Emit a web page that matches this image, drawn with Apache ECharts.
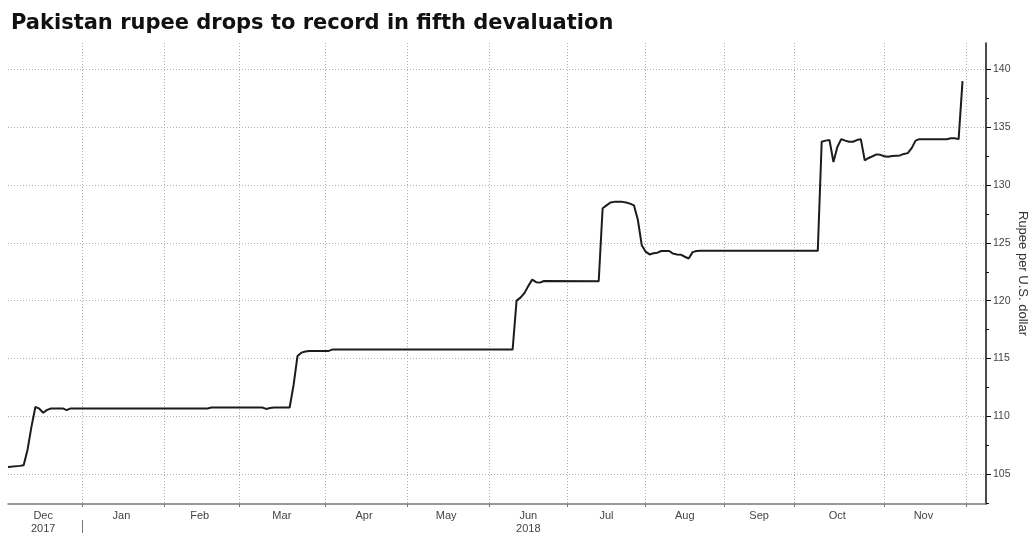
<!DOCTYPE html>
<html><head><meta charset="utf-8">
<script src="https://cdn.jsdelivr.net/npm/echarts@6/dist/echarts.min.js"></script>
<style>html,body{margin:0;padding:0;background:#fff}#c{width:1032px;height:534px}</style>
</head><body><div id="c"></div>
<script>
// ---------- data ----------
const titleText = 'Pakistan rupee drops to record in fifth devaluation';
const yAxisName = 'Rupee per U.S. dollar';
const monthNames = ['Jan','Feb','Mar','Apr','May','Jun','Jul','Aug','Sep','Oct','Nov','Dec'];
const firstDay = '2017-12-04';
const lastDay = '2018-12-10';
// weekdays with no fixing in the series
const nonTradingDays = ['2017-12-25','2018-01-01','2018-01-02','2018-02-05','2018-05-01','2018-05-31',
  '2018-06-15','2018-07-25','2018-07-26','2018-08-14','2018-08-22','2018-08-23',
  '2018-09-20','2018-09-21','2018-11-21'];
const yTicks = [105,110,115,120,125,130,135,140];
const yMinorTicks = [102.5,107.5,112.5,117.5,122.5,127.5,132.5,137.5];
const yMin = 102.4, yMax = 142.3;
const yearLabels = {'2017-12':'2017','2018-06':'2018'};
// USD/PKR close (flat stretches given by their ends)
const pointDates = [
  '2017-12-04','2017-12-07','2017-12-08','2017-12-11','2017-12-12','2017-12-13','2017-12-14','2017-12-15',
  '2017-12-18','2017-12-19','2017-12-22','2017-12-26','2017-12-27',
  '2018-02-19','2018-02-20','2018-03-09','2018-03-12','2018-03-13','2018-03-14','2018-03-20',
  '2018-03-21','2018-03-22','2018-03-23','2018-03-26','2018-03-27','2018-04-03','2018-04-04',
  '2018-06-11','2018-06-12','2018-06-13','2018-06-14','2018-06-18','2018-06-19','2018-06-20','2018-06-21','2018-06-22',
  '2018-07-12','2018-07-13','2018-07-16','2018-07-17','2018-07-18','2018-07-20','2018-07-23','2018-07-24',
  '2018-07-27','2018-07-30','2018-07-31',
  '2018-08-01','2018-08-02','2018-08-03','2018-08-06','2018-08-07','2018-08-09','2018-08-10','2018-08-13',
  '2018-08-15','2018-08-16','2018-08-17','2018-08-20','2018-08-21','2018-08-24',
  '2018-10-09','2018-10-10','2018-10-11','2018-10-12','2018-10-15','2018-10-16','2018-10-17','2018-10-18',
  '2018-10-19','2018-10-22','2018-10-23','2018-10-24','2018-10-25','2018-10-26','2018-10-29','2018-10-30','2018-10-31',
  '2018-11-01','2018-11-02','2018-11-05','2018-11-06','2018-11-07','2018-11-08','2018-11-09','2018-11-12',
  '2018-11-13','2018-11-14','2018-11-26','2018-11-27','2018-11-28','2018-11-29','2018-11-30'
];
const pointValues = [
  105.6,105.7,105.75,107.1,109.1,110.8,110.65,110.3,
  110.55,110.67,110.67,110.53,110.67,
  110.67,110.75,110.75,110.63,110.7,110.75,110.75,
  112.7,115.2,115.5,115.6,115.65,115.65,115.78,
  115.78,120.0,120.26,120.65,121.27,121.82,121.6,121.56,121.7,
  121.68,128.0,128.25,128.5,128.55,128.55,128.5,128.4,
  128.25,127.0,124.8,
  124.24,124.0,124.1,124.15,124.3,124.3,124.07,124.0,
  123.98,123.8,123.65,124.2,124.29,124.31,
  124.31,133.75,133.85,133.9,132.0,133.3,133.98,133.85,
  133.75,133.75,133.9,133.98,132.15,132.35,132.5,132.66,132.62,
  132.5,132.45,132.52,132.55,132.57,132.7,132.77,133.2,
  133.85,133.98,133.97,134.05,134.05,133.98,139.0
];

// ---------- trading-day categories ----------
const skip = new Set(nonTradingDays);
const categories = [];
for (let t = Date.parse(firstDay + 'T00:00:00Z'); t <= Date.parse(lastDay + 'T00:00:00Z'); t += 86400000) {
  const d = new Date(t);
  const wd = d.getUTCDay();
  const s = d.toISOString().slice(0, 10);
  if (wd === 0 || wd === 6 || skip.has(s)) continue;
  categories.push(s);
}
const monthStarts = [];
categories.forEach((c, i) => {
  if (i > 0 && c.slice(0, 7) !== categories[i - 1].slice(0, 7)) monthStarts.push(i);
});
const monthStartSet = new Set(monthStarts);
const labelIdx = new Set();
const bounds = [0].concat(monthStarts);
for (let k = 0; k < bounds.length - 1; k++) labelIdx.add(Math.floor((bounds[k] + bounds[k + 1]) / 2));
const yearStartIdx = categories.findIndex(c => c.startsWith('2018'));

const font = 'Liberation Sans';
const chart = echarts.init(document.getElementById('c'), null, {renderer: 'canvas'});
chart.setOption({
  animation: false,
  backgroundColor: '#ffffff',
  title: {
    text: titleText, left: 6, top: 8,
    textStyle: {fontFamily: 'DejaVu Sans', fontWeight: 'bold', fontSize: 21, color: '#111'}
  },
  grid: {left: 8, right: 46, top: 43, bottom: 30, containLabel: false, outerBoundsMode: 'none'},
  xAxis: [{
    type: 'category', data: categories, boundaryGap: false,
    axisLine: {show: true, lineStyle: {color: '#777', width: 1.5}},
    axisTick: {show: true, length: 3, interval: (i) => monthStartSet.has(i), lineStyle: {color: '#777'}},
    splitLine: {show: true, interval: (i) => monthStartSet.has(i), lineStyle: {color: '#b0b0b0', width: 1, type: [1, 2]}},
    axisLabel: {
      show: true, interval: (i) => labelIdx.has(i), margin: 5,
      fontFamily: font, fontSize: 11, color: '#444', lineHeight: 13,
      formatter: (v) => {
        const m = monthNames[parseInt(v.slice(5, 7), 10) - 1];
        const y = yearLabels[v.slice(0, 7)];
        return y ? m + '\n' + y : m;
      }
    }
  }, {
    type: 'category', data: categories, boundaryGap: false, position: 'bottom', offset: 16,
    axisLine: {show: false},
    axisTick: {show: true, length: 13, interval: (i) => i === yearStartIdx, lineStyle: {color: '#777'}},
    axisLabel: {show: false}, splitLine: {show: false}
  }],
  yAxis: [{
    type: 'value', position: 'right', min: yMin, max: yMax, scale: true,
    name: yAxisName, nameLocation: 'middle', nameRotate: -90, nameGap: 30, nameMoveOverlap: false,
    nameTextStyle: {fontFamily: font, fontSize: 13, color: '#333'},
    axisLine: {show: true, lineStyle: {color: '#111', width: 1.5}},
    axisTick: {show: true, length: 5, inside: false, customValues: yTicks, lineStyle: {color: '#111'}},
    axisLabel: {show: true, customValues: yTicks, margin: 7, fontFamily: font, fontSize: 10.5, color: '#444'},
    splitLine: {show: true, lineStyle: {color: '#b0b0b0', width: 1, type: [1, 2]}}
  }, {
    type: 'value', position: 'right', min: yMin, max: yMax, scale: true,
    axisLine: {show: false},
    axisTick: {show: true, length: 3, customValues: yMinorTicks, lineStyle: {color: '#111'}},
    axisLabel: {show: false}, splitLine: {show: false}
  }],
  series: [{
    type: 'line', xAxisIndex: 0, yAxisIndex: 0,
    data: pointDates.map((d, i) => [d, pointValues[i]]),
    symbol: 'none', lineStyle: {color: '#1c1c1c', width: 2}, z: 5
  }]
});
</script></body></html>
